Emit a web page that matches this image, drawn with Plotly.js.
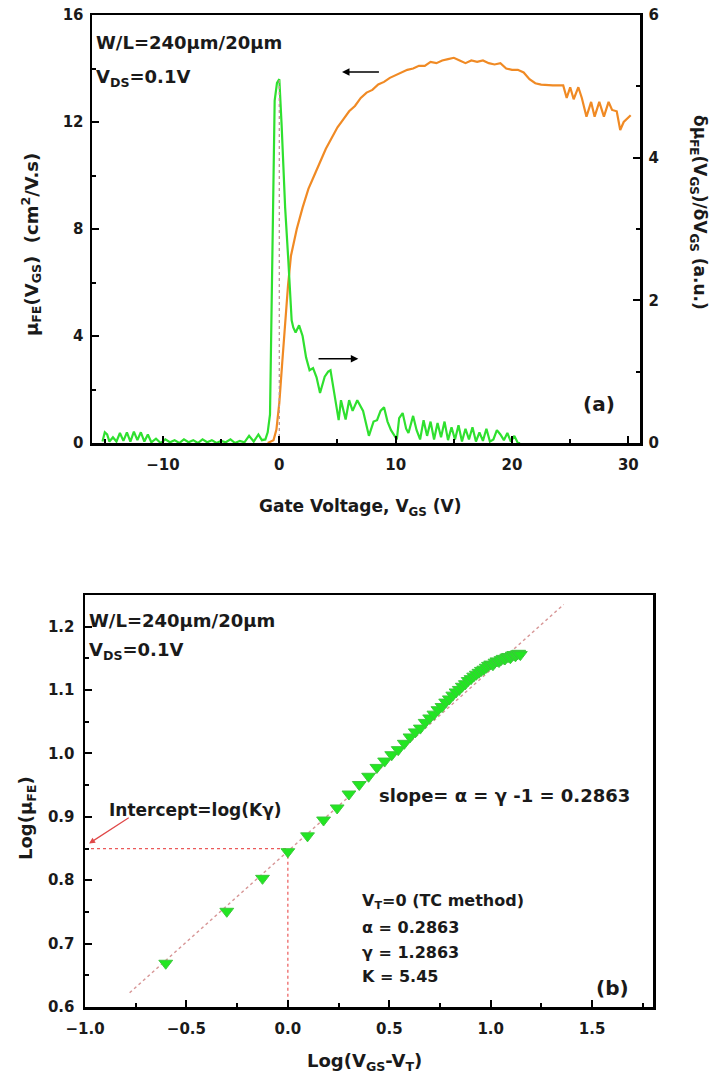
<!DOCTYPE html>
<html>
<head>
<meta charset="utf-8">
<script src="https://cdn.plot.ly/plotly-3.0.1.min.js"></script>
<style>html,body{margin:0;padding:0;background:#fff;}#chart{width:717px;height:1082px;}</style>
</head>
<body>
<div id="chart"></div>
<script>
// ---------- Panel (a): field-effect mobility vs gate voltage ----------
const muVgs = [-1.0,-0.5,-0.25,0,0.25,0.5,0.75,1.0,1.5,2,2.5,3,3.5,4,4.5,5,5.5,6,6.5,7,7.5,8,8.5,9,9.5,10,10.5,11,11.5,12,12.5,13,13.5,14,14.5,15,15.5,16,16.5,17,17.5,18,18.5,19,19.5,20,20.5,21,21.5,22,22.5,23,23.5,24,24.4,24.7,25.0,25.3,25.7,26.0,26.4,26.8,27.1,27.5,27.9,28.3,28.6,29.0,29.3,29.6,30.2];
const muFE = [0,0.1,0.5,1.5,3.0,4.6,5.9,7.0,8.0,8.8,9.5,10.0,10.5,11.0,11.4,11.8,12.1,12.4,12.6,12.9,13.1,13.2,13.4,13.5,13.65,13.75,13.85,13.95,14.0,14.1,14.1,14.25,14.2,14.3,14.35,14.4,14.3,14.2,14.3,14.25,14.3,14.2,14.15,14.2,14.0,13.95,13.95,13.85,13.6,13.45,13.4,13.38,13.37,13.37,13.37,12.9,13.3,12.85,13.3,12.9,12.2,12.75,12.2,12.75,12.2,12.75,12.45,12.4,11.7,12.0,12.25];

const dmuVgs = [-15.2,-15.0,-14.8,-14.6,-14.3,-14.0,-13.7,-13.4,-13.1,-12.8,-12.5,-12.2,-11.9,-11.6,-11.3,-11.0,-10.6,-10.2,-9.8,-9.4,-9.0,-8.6,-8.2,-7.8,-7.4,-7.0,-6.6,-6.2,-5.8,-5.4,-5.0,-4.6,-4.2,-3.8,-3.4,-3.0,-2.6,-2.2,-1.8,-1.5,-1.2,-1.0,-0.8,-0.6,-0.4,-0.2,0.0,0.2,0.5,0.77,1.06,1.2,1.4,1.7,2.0,2.3,2.6,2.9,3.2,3.5,3.9,4.2,4.4,4.7,5.1,5.3,5.7,6.0,6.3,6.7,7.2,7.7,8.1,8.4,8.7,9.0,9.3,9.6,10.1,10.3,10.6,10.9,11.1,11.5,11.8,12.1,12.4,12.7,13.0,13.3,13.6,13.9,14.2,14.5,14.8,15.1,15.4,15.7,16.0,16.3,16.6,16.9,17.2,17.5,17.8,18.1,18.4,18.7,19.0,19.3,19.6,19.9,20.2,20.5,20.7];
const dmu = [0.02,0.15,0.12,0.02,0.08,0.02,0.14,0.03,0.15,0.02,0.16,0.04,0.15,0.02,0.12,0.01,0.06,0.0,0.05,0.01,0.04,0.0,0.05,0.01,0.04,0.0,0.05,0.01,0.04,0.0,0.03,0.01,0.05,0.0,0.03,0.01,0.1,0.02,0.12,0.04,0.05,0.15,0.4,2.4,4.8,5.05,5.1,4.45,3.3,2.57,1.72,1.62,1.55,1.65,1.5,1.2,1.02,1.05,0.92,0.7,0.93,1.0,1.02,0.72,0.32,0.6,0.33,0.6,0.45,0.6,0.45,0.1,0.3,0.32,0.45,0.5,0.3,0.18,0.05,0.35,0.42,0.2,0.14,0.38,0.18,0.05,0.32,0.1,0.3,0.05,0.28,0.08,0.3,0.04,0.22,0.05,0.25,0.02,0.2,0.05,0.22,0.02,0.15,0.03,0.2,0.02,0.05,0.18,0.12,0.04,0.14,0.02,0.1,0.0,0.0];

const vtLineX = [0, 0];
const vtLineY = [0, 5.1];

// ---------- Panel (b): log-log plot ----------
const logVgsVt = [-0.602,-0.301,-0.125,0.0,0.097,0.176,0.243,0.301,0.352,0.398,0.439,0.477,0.512,0.544,0.574,0.602,0.628,0.653,0.677,0.699,0.720,0.740,0.760,0.778,0.796,0.813,0.829,0.845,0.860,0.875,0.889,0.903,0.916,0.929,0.942,0.954,0.966,0.978,0.989,1.0,1.011,1.021,1.031,1.041,1.051,1.061,1.070,1.079,1.088,1.097,1.106,1.114,1.122,1.130,1.138,1.146];
const logMu = [0.669,0.751,0.803,0.845,0.870,0.895,0.914,0.936,0.951,0.964,0.978,0.988,0.998,1.006,1.016,1.026,1.034,1.040,1.049,1.056,1.062,1.069,1.074,1.081,1.086,1.092,1.097,1.101,1.106,1.110,1.115,1.118,1.122,1.125,1.128,1.131,1.133,1.136,1.139,1.141,1.140,1.144,1.146,1.145,1.148,1.150,1.149,1.152,1.153,1.151,1.155,1.156,1.154,1.157,1.158,1.156];

const fitSlope = [0.2863];
const fitIntercept = [0.8457];
const fitRangeX = [-0.78, 1.36];
const fitLineY = fitRangeX.map(v => fitIntercept[0] + fitSlope[0] * v);

const interceptGuideX = [-1.0, 0.0, 0.0];
const interceptGuideY = [0.85, 0.85, 0.6];

const xTicksTop = [-10, 0, 10, 20, 30];
const yTicksLeft = [0, 4, 8, 12, 16];
const yTicksRight = [0, 2, 4, 6];

const FONT = 'DejaVu Sans';
const W = 717, H = 1082;
const px = v => v / W;
const py = v => 1 - v / H;

const traces = [
  {x: muVgs, y: muFE, xaxis: 'x', yaxis: 'y', mode: 'lines', line: {color: '#f08a24', width: 2.2}, hoverinfo: 'skip'},
  {x: dmuVgs, y: dmu, xaxis: 'x', yaxis: 'y2', mode: 'lines', line: {color: '#2fe02f', width: 2.2}, hoverinfo: 'skip'},
  {x: vtLineX, y: vtLineY, xaxis: 'x', yaxis: 'y2', mode: 'lines', line: {color: 'rgb(190,150,150)', width: 1.3, dash: 'dot'}, hoverinfo: 'skip'},
  {x: fitRangeX, y: fitLineY, xaxis: 'x2', yaxis: 'y3', mode: 'lines', line: {color: 'rgb(215,150,150)', width: 1.5, dash: 'dot'}, hoverinfo: 'skip'},
  {x: interceptGuideX, y: interceptGuideY, xaxis: 'x2', yaxis: 'y3', mode: 'lines', line: {color: 'rgb(235,90,90)', width: 1.2, dash: 'dot'}, hoverinfo: 'skip'},
  {x: logVgsVt, y: logMu, xaxis: 'x2', yaxis: 'y3', mode: 'markers', marker: {symbol: 'triangle-down', size: 12, color: '#22e622', line: {color: '#3cc83c', width: 1}}, hoverinfo: 'skip'}
];

const axisBase = {
  showgrid: false, zeroline: false, showline: true, linecolor: '#000', linewidth: 2.5,
  ticks: 'inside', ticklen: 7, tickwidth: 2, tickcolor: '#000',
  tickfont: {family: FONT, size: 15, color: '#1a1a1a', weight: 'bold'}, fixedrange: true
};
const minorBase = {ticks: 'inside', ticklen: 4, tickwidth: 2, tickcolor: '#000', showgrid: false};

const layout = {
  width: W, height: H, margin: {l: 0, r: 0, t: 0, b: 0},
  paper_bgcolor: '#fff', plot_bgcolor: '#fff', showlegend: false,
  font: {family: FONT, size: 15, color: '#1a1a1a', weight: 'bold'},
  xaxis: Object.assign({}, axisBase, {domain: [px(92), px(640)], anchor: 'y', range: [-16.1, 31.0],
    tickvals: xTicksTop, mirror: true, ticklabelstandoff: 6, minor: Object.assign({}, minorBase, {dtick: 5, tick0: 0})}),
  yaxis: Object.assign({}, axisBase, {domain: [py(443), py(15)], anchor: 'x', range: [0, 16],
    tickvals: yTicksLeft, mirror: true, ticklabelstandoff: 3, minor: Object.assign({}, minorBase, {dtick: 2, tick0: 0})}),
  yaxis2: Object.assign({}, axisBase, {overlaying: 'y', side: 'right', anchor: 'x', range: [0, 6],
    tickvals: yTicksRight, ticklabelstandoff: 3, minor: Object.assign({}, minorBase, {dtick: 1, tick0: 0})}),
  xaxis2: Object.assign({}, axisBase, {domain: [px(85), px(653)], anchor: 'y3', range: [-1.0, 1.8],
    dtick: 0.5, tick0: 0, tickformat: '.1f', mirror: true, ticklabelstandoff: 6, minor: Object.assign({}, minorBase, {dtick: 0.25, tick0: 0})}),
  yaxis3: Object.assign({}, axisBase, {domain: [py(1007), py(595)], anchor: 'x2', range: [0.6, 1.25],
    dtick: 0.1, tick0: 0, tickformat: '.1f', mirror: true, ticklabelstandoff: 5, minor: Object.assign({}, minorBase, {dtick: 0.05, tick0: 0})}),
  annotations: [
    // axis titles
    {xref: 'paper', yref: 'paper', x: px(360), y: py(508), text: 'Gate Voltage, V<sub>GS</sub> (V)', showarrow: false, xanchor: 'center', yanchor: 'middle', font: {family: FONT, size: 17, weight: 'bold'}},
    {xref: 'paper', yref: 'paper', x: px(31), y: py(245), text: 'μ<sub>FE</sub>(V<sub>GS</sub>)  (cm<sup>2</sup>/V.s)', textangle: -90, showarrow: false, xanchor: 'center', yanchor: 'middle', font: {family: FONT, size: 18, weight: 'bold'}},
    {xref: 'paper', yref: 'paper', x: px(699), y: py(212), text: 'δμ<sub>FE</sub>(V<sub>GS</sub>)/δV<sub>GS</sub> (a.u.)', textangle: 90, showarrow: false, xanchor: 'center', yanchor: 'middle', font: {family: FONT, size: 17, weight: 'bold'}},
    {xref: 'paper', yref: 'paper', x: px(364), y: py(1062), text: 'Log(V<sub>GS</sub>-V<sub>T</sub>)', showarrow: false, xanchor: 'center', yanchor: 'middle', font: {family: FONT, size: 18, weight: 'bold'}},
    {xref: 'paper', yref: 'paper', x: px(27), y: py(818), text: 'Log(μ<sub>FE</sub>)', textangle: -90, showarrow: false, xanchor: 'center', yanchor: 'middle', font: {family: FONT, size: 18, weight: 'bold'}},
    // panel (a) texts
    {xref: 'paper', yref: 'paper', x: px(94), y: py(43), text: 'W/L=240μm/20μm', showarrow: false, xanchor: 'left', yanchor: 'middle', font: {family: FONT, size: 18, weight: 'bold'}},
    {xref: 'paper', yref: 'paper', x: px(94), y: py(78), text: 'V<sub>DS</sub>=0.1V', showarrow: false, xanchor: 'left', yanchor: 'middle', font: {family: FONT, size: 18, weight: 'bold'}},
    {xref: 'paper', yref: 'paper', x: px(599), y: py(404), text: '(a)', showarrow: false, xanchor: 'center', yanchor: 'middle', font: {family: FONT, size: 20, weight: 'bold'}},
    {xref: 'x', yref: 'y', x: 5.39, y: 13.87, axref: 'x', ayref: 'y', ax: 8.69, ay: 13.87, text: '', showarrow: true, arrowhead: 2, arrowsize: 1, arrowwidth: 1.5, arrowcolor: '#000'},
    {xref: 'x', yref: 'y', x: 6.79, y: 3.15, axref: 'x', ayref: 'y', ax: 3.24, ay: 3.15, text: '', showarrow: true, arrowhead: 2, arrowsize: 1, arrowwidth: 1.5, arrowcolor: '#000'},
    // panel (b) texts
    {xref: 'paper', yref: 'paper', x: px(87), y: py(620), text: 'W/L=240μm/20μm', showarrow: false, xanchor: 'left', yanchor: 'middle', font: {family: FONT, size: 18, weight: 'bold'}},
    {xref: 'paper', yref: 'paper', x: px(87), y: py(651), text: 'V<sub>DS</sub>=0.1V', showarrow: false, xanchor: 'left', yanchor: 'middle', font: {family: FONT, size: 18, weight: 'bold'}},
    {xref: 'paper', yref: 'paper', x: px(107), y: py(810), text: 'Intercept=log(Kγ)', showarrow: false, xanchor: 'left', yanchor: 'middle', font: {family: FONT, size: 17, weight: 'bold'}},
    {xref: 'x2', yref: 'y3', x: -0.98, y: 0.858, axref: 'x2', ayref: 'y3', ax: -0.777, ay: 0.9, text: '', showarrow: true, arrowhead: 2, arrowsize: 1, arrowwidth: 1.2, arrowcolor: '#e04848'},
    {xref: 'paper', yref: 'paper', x: px(377), y: py(795), text: 'slope= α = γ -1 = 0.2863', showarrow: false, xanchor: 'left', yanchor: 'middle', font: {family: FONT, size: 18, weight: 'bold'}},
    {xref: 'paper', yref: 'paper', x: px(360), y: py(901), text: 'V<sub>T</sub>=0 (TC method)', showarrow: false, xanchor: 'left', yanchor: 'middle', font: {family: FONT, size: 16, weight: 'bold'}},
    {xref: 'paper', yref: 'paper', x: px(360), y: py(927), text: 'α = 0.2863', showarrow: false, xanchor: 'left', yanchor: 'middle', font: {family: FONT, size: 16, weight: 'bold'}},
    {xref: 'paper', yref: 'paper', x: px(360), y: py(952), text: 'γ = 1.2863', showarrow: false, xanchor: 'left', yanchor: 'middle', font: {family: FONT, size: 16, weight: 'bold'}},
    {xref: 'paper', yref: 'paper', x: px(360), y: py(976), text: 'K = 5.45', showarrow: false, xanchor: 'left', yanchor: 'middle', font: {family: FONT, size: 16, weight: 'bold'}},
    {xref: 'paper', yref: 'paper', x: px(612), y: py(988), text: '(b)', showarrow: false, xanchor: 'center', yanchor: 'middle', font: {family: FONT, size: 20, weight: 'bold'}}
  ]
};

Plotly.newPlot('chart', traces, layout, {staticPlot: true, displayModeBar: false});
</script>
</body>
</html>
